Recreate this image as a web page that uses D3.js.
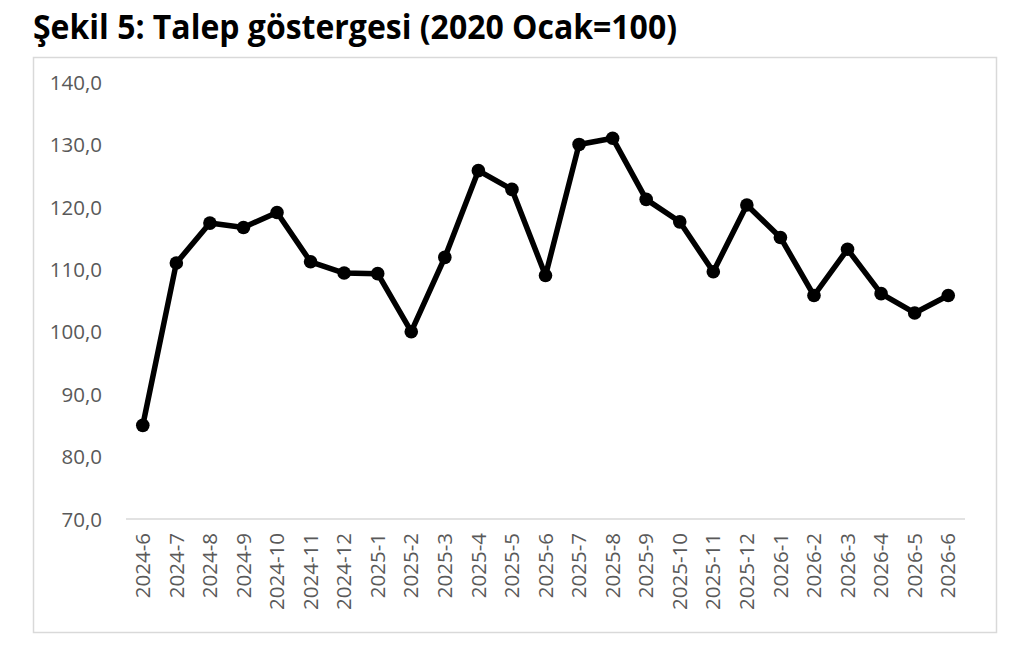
<!DOCTYPE html>
<html><head><meta charset="utf-8">
<script src="https://cdn.jsdelivr.net/npm/d3@7"></script>
<style>
html,body{margin:0;padding:0;background:#fff;}
svg{display:block;}
</style></head>
<body>
<svg id="c" width="1024" height="648"></svg>
<script>
const titleText = "Şekil 5: Talep göstergesi (2020 Ocak=100)";
const categories = ["2024-6","2024-7","2024-8","2024-9","2024-10","2024-11","2024-12","2025-1","2025-2","2025-3","2025-4","2025-5","2025-6","2025-7","2025-8","2025-9","2025-10","2025-11","2025-12","2026-1","2026-2","2026-3","2026-4","2026-5","2026-6"];
const values = [85.0,111.0,117.4,116.7,119.1,111.2,109.4,109.3,100.0,111.9,125.8,122.8,109.0,130.0,131.0,121.2,117.6,109.6,120.3,115.1,105.8,113.2,106.1,103.0,105.8];
const yTicks = [70,80,90,100,110,120,130,140];

const svg = d3.select("#c");
const fontFam = "'Open Sans','Noto Sans','DejaVu Sans',sans-serif";

svg.append("text").attr("x",33).attr("y",39)
  .attr("font-family",fontFam).attr("font-weight","bold").attr("font-size",34)
  .attr("fill","#000").attr("textLength",644).attr("lengthAdjust","spacingAndGlyphs")
  .text(titleText);

svg.append("rect").attr("x",33.5).attr("y",57.5).attr("width",963).attr("height",575)
  .attr("fill","#fff").attr("stroke","#d9d9d9").attr("stroke-width",1.5);

const m = {left:126, right:965, top:82, bottom:519};
const x = d3.scaleBand().domain(categories).range([m.left,m.right]).paddingInner(0).paddingOuter(0);
const y = d3.scaleLinear().domain([70,140]).range([m.bottom,m.top]);

svg.append("line").attr("x1",m.left).attr("x2",m.right).attr("y1",y(70)).attr("y2",y(70))
  .attr("stroke","#d9d9d9").attr("stroke-width",1.5);

const yAxis = d3.axisLeft(y).tickValues(yTicks).tickSize(0).tickPadding(0)
  .tickFormat(d => d3.format(".1f")(d).replace(".",","));
const gy = svg.append("g").attr("transform","translate(102,0)").call(yAxis);
gy.select(".domain").remove();
gy.selectAll("text").attr("font-family",fontFam).attr("font-size",20.5).attr("fill","#595959").attr("dy","0.35em");

const xAxis = d3.axisBottom(x).tickSize(0).tickPadding(0);
const gx = svg.append("g").attr("transform",`translate(0,${y(70)})`).call(xAxis);
gx.select(".domain").remove();
gx.selectAll("text").attr("font-family",fontFam).attr("font-size",20.5).attr("fill","#595959")
  .attr("transform","rotate(-90)").attr("text-anchor","end")
  .attr("x",-14).attr("y",0).attr("dy","0.35em");

const pts = categories.map((c,i)=>({c, v:values[i]}));
const line = d3.line().x(d=>x(d.c)+x.bandwidth()/2).y(d=>y(d.v));
svg.append("path").datum(pts).attr("d",line).attr("fill","none").attr("stroke","#000")
  .attr("stroke-width",5.5).attr("stroke-linejoin","round");
svg.selectAll("circle.pt").data(pts).join("circle").attr("class","pt")
  .attr("cx",d=>x(d.c)+x.bandwidth()/2).attr("cy",d=>y(d.v)).attr("r",6.8).attr("fill","#000");
</script>
</body></html>
